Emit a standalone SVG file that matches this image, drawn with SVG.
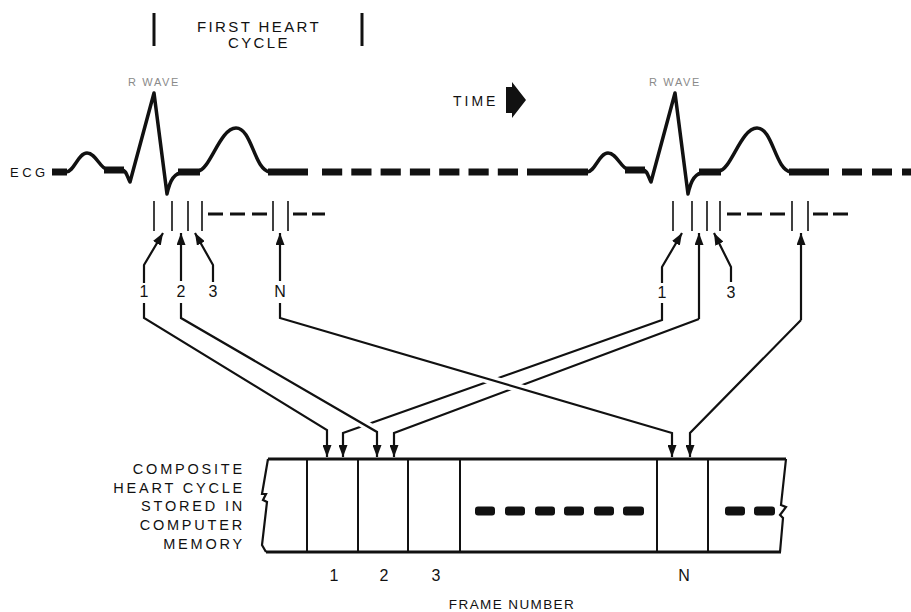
<svg xmlns="http://www.w3.org/2000/svg" xmlns:xlink="http://www.w3.org/1999/xlink" width="911" height="612" viewBox="0 0 911 612">
<style>
text{font-family:"Liberation Sans",Arial,sans-serif;fill:#111}
.lbl{font-size:15px;letter-spacing:2.4px}
.rw{font-size:11px;fill:#8a8a8a;letter-spacing:1.6px}
.num{font-size:16px}
.mem{font-size:14.5px;letter-spacing:2.8px}
.wave{fill:none;stroke:#111;stroke-width:3.5;stroke-linejoin:round}
.thick{fill:none;stroke:#111;stroke-width:7}
.tick{stroke:#111;stroke-width:1.6}
.tdash{stroke:#111;stroke-width:3}
.con{fill:none;stroke:#111;stroke-width:2.2}
.halo{fill:none;stroke:#fff;stroke-width:9}
.cell{stroke:#111;stroke-width:2}
</style>
<defs>
<marker id="ah" markerWidth="12" markerHeight="9" refX="12" refY="4.5" orient="auto" markerUnits="userSpaceOnUse"><path d="M0,0 L12,4.5 L0,9 Z" fill="#111"/></marker>
<g id="cycle">
<path class="wave" d="M66,172 C74,172 78,153 87,153 C96,153 100,169 108,170 L122,170 C126,170 127,176 130,182 L154,93 L167,194 C170,180 174,173 184,172 L198,171 C210,170 220,128 236,128 C252,128 254,170 270,172 L308,172"/>
<path class="thick" d="M104,170 H124 M178,172 H200 M268,172 H308"/>
</g>
</defs>

<g id="heart-cycle-label">
<line x1="154" y1="13" x2="154" y2="46" stroke="#111" stroke-width="3"/>
<line x1="362" y1="13" x2="362" y2="46" stroke="#111" stroke-width="3"/>
<text class="lbl" x="259" y="32" text-anchor="middle">FIRST HEART</text>
<text class="lbl" x="259" y="48" text-anchor="middle">CYCLE</text>
</g>

<g id="time">
<text x="453" y="106" style="font-size:14px;letter-spacing:3px">TIME</text>
<polygon points="506,87 512,87 512,82 526,100 512,118 512,113 506,113" fill="#111"/>
</g>

<g id="ecg">
<text x="10" y="177" style="font-size:13px;letter-spacing:3.5px">ECG</text>
<text class="rw" x="154" y="86" text-anchor="middle">R WAVE</text>
<text class="rw" x="675" y="86" text-anchor="middle">R WAVE</text>
<path class="thick" d="M52,172 H67"/>
<use xlink:href="#cycle"/>
<path class="thick" d="M322,172 H518" stroke-dasharray="20.2 9.1"/>
<path class="thick" d="M527,172 H588"/>
<use xlink:href="#cycle" transform="translate(521,0)"/>
<path class="thick" d="M842,172 H911" stroke-dasharray="20 10"/>
</g>

<g id="frames-cycle1">
<path class="tick" d="M154,201 V231 M172,201 V231 M188,201 V231 M202,201 V231 M273,201 V231 M288,201 V231"/>
<path class="tdash" d="M208,214 H223 M230,214 H245 M252,214 H267 M293,214 H307 M312,214 H325"/>
</g>
<g id="frames-cycle2">
<path class="tick" d="M673,201 V231 M692,201 V231 M707,201 V231 M720,201 V231 M792,201 V231 M808,201 V231"/>
<path class="tdash" d="M727,214 H741 M747,214 H762 M770,214 H785 M813,214 H828 M833,214 H848"/>
</g>

<g id="labels">
<text class="num" x="144" y="297" text-anchor="middle">1</text>
<text class="num" x="181" y="297" text-anchor="middle">2</text>
<text class="num" x="213" y="297" text-anchor="middle">3</text>
<text class="num" x="280" y="297" text-anchor="middle">N</text>
<text class="num" x="662" y="298" text-anchor="middle">1</text>
<text class="num" x="731" y="298" text-anchor="middle">3</text>
</g>

<g id="connectors">
<path class="con" d="M144,283 V265 L163,233" marker-end="url(#ah)"/>
<path class="con" d="M181,281 V233" marker-end="url(#ah)"/>
<path class="con" d="M213,282 V265 L195,233" marker-end="url(#ah)"/>
<path class="con" d="M280,281 V233" marker-end="url(#ah)"/>
<path class="con" d="M662,283 V267 L682,233" marker-end="url(#ah)"/>
<path class="con" d="M731,282 V267 L714,233" marker-end="url(#ah)"/>
<path class="con" d="M801,320 V233" marker-end="url(#ah)"/>
<path class="con" d="M699,319 V233" marker-end="url(#ah)"/>

<path class="con" d="M662,303 V320 L343,433 V457" marker-end="url(#ah)"/>
<path class="con" d="M699,319 L394,433 V457" marker-end="url(#ah)"/>
<path class="con" d="M801,320 L690,433 V457" marker-end="url(#ah)"/>
<path class="con" d="M144,303 V318 L327,430 V457" marker-end="url(#ah)"/>
<path class="halo" d="M353,417.7 L371,428.2"/>
<path class="con" d="M181,303 V318 L377,432 V457" marker-end="url(#ah)"/>
<path class="halo" d="M470,373.7 L535,392.8"/>
<path class="con" d="M280,303 V318 L672,433 V457" marker-end="url(#ah)"/>
</g>

<g id="memory">
<text class="mem" x="245" y="474" text-anchor="end">COMPOSITE</text>
<text class="mem" x="245" y="493" text-anchor="end">HEART CYCLE</text>
<text class="mem" x="245" y="511" text-anchor="end">STORED IN</text>
<text class="mem" x="245" y="530" text-anchor="end">COMPUTER</text>
<text class="mem" x="245" y="549" text-anchor="end">MEMORY</text>
<path d="M268,459 H786 M266,552 H781" stroke="#111" stroke-width="3" fill="none"/>
<path d="M268,459 L262,494 L266,494 L263,500 L267,502 L262,545 L266,552" class="con" stroke-width="1.5"/>
<path d="M786,459 L781,505 L786,507 L780,515 L783,518 L780,552" class="con" stroke-width="1.5"/>
<path class="cell" d="M307,459 V552 M358,459 V552 M408,459 V552 M460,459 V552 M657,459 V552 M708,459 V552"/>
<g fill="#111">
<rect x="475" y="506.5" width="20" height="9" rx="3"/>
<rect x="505" y="506.5" width="20" height="9" rx="3"/>
<rect x="535" y="506.5" width="20" height="9" rx="3"/>
<rect x="564" y="506.5" width="20" height="9" rx="3"/>
<rect x="594" y="506.5" width="20" height="9" rx="3"/>
<rect x="623" y="506.5" width="21" height="9" rx="3"/>
<rect x="725" y="506.5" width="20" height="9" rx="3"/>
<rect x="754" y="506.5" width="21" height="9" rx="3"/>
</g>
<text class="num" x="334" y="581" text-anchor="middle">1</text>
<text class="num" x="384" y="581" text-anchor="middle">2</text>
<text class="num" x="436" y="581" text-anchor="middle">3</text>
<text class="num" x="684" y="581" text-anchor="middle">N</text>
<text x="512" y="609" text-anchor="middle" style="font-size:13.5px;letter-spacing:1.4px">FRAME NUMBER</text>
</g>
</svg>
